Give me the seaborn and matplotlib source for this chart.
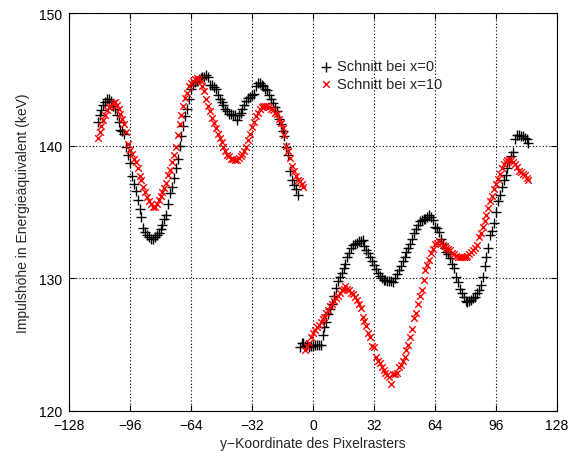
import numpy as np
import pandas as pd
import matplotlib
matplotlib.use("Agg")
import matplotlib.pyplot as plt
import seaborn as sns

# ---- data ----
x_black_1 = np.arange(-113, -7)
y_black_1 = [141.8, 142.3, 142.7, 143.1, 143.3, 143.5, 143.5, 143.4, 143.0, 142.8,
             142.3, 141.8, 141.2, 141.1, 140.9, 139.9, 139.3, 138.7, 137.7, 137.1,
             136.6, 135.9, 135.2, 134.6, 133.8, 133.5, 133.3, 133.1, 133.0, 133.0,
             133.1, 133.3, 133.4, 133.7, 134.0, 134.5, 134.8, 135.6, 136.4, 136.9,
             137.6, 138.3, 139.0, 140.0, 140.7, 141.5, 142.2, 142.8, 143.5, 144.3,
             144.6, 144.8, 144.9, 145.0, 145.1, 145.2, 145.2, 145.3, 145.2, 144.6,
             144.6, 144.4, 144.3, 143.8, 143.5, 143.3, 143.1, 142.8, 142.6, 142.4,
             142.4, 142.3, 142.3, 141.9, 142.3, 142.5, 142.8, 143.1, 143.4, 143.6,
             143.7, 143.8, 143.9, 144.5, 144.7, 144.7, 144.6, 144.5, 144.3, 144.2,
             143.8, 143.5, 143.2, 142.9, 142.6, 142.0, 141.6, 141.1, 140.7, 139.9,
             139.3, 138.1, 137.4, 137.0, 136.7, 136.3]

x_red_1 = np.arange(-113, -4)
y_red_1 = [140.6, 141.0, 141.5, 141.9, 142.3, 142.7, 142.9, 143.0, 143.2, 143.3,
           143.1, 142.8, 142.4, 142.0, 141.6, 141.0, 140.1, 139.7, 139.4, 139.0,
           138.8, 138.3, 137.7, 137.4, 136.9, 136.5, 136.1, 135.8, 135.6, 135.4,
           135.4, 135.6, 135.9, 136.2, 136.5, 136.8, 137.2, 137.8, 138.2, 138.8,
           139.3, 139.9, 140.8, 141.6, 142.3, 143.0, 143.6, 144.0, 144.5, 144.7,
           144.9, 145.0, 145.1, 145.0, 144.9, 144.5, 144.1, 143.5, 143.0, 142.6,
           142.1, 141.7, 141.3, 140.9, 140.6, 140.3, 139.9, 139.6, 139.3, 139.2,
           139.0, 139.0, 138.9, 138.9, 139.1, 139.2, 139.4, 139.6, 139.9, 140.4,
           140.9, 141.4, 141.8, 142.2, 142.5, 142.8, 142.9, 143.0, 143.0, 143.0,
           142.9, 142.8, 142.7, 142.5, 142.4, 142.0, 141.7, 141.3, 140.8, 140.0,
           139.6, 139.1, 138.5, 138.1, 137.7, 137.4, 137.3, 137.1, 136.9]

x_black_2 = np.arange(-7, 114)
y_black_2 = [124.8, 125.1, 125.1, 124.9, 125.0, 124.8, 124.9, 124.9, 125.0, 125.0,
             125.0, 125.0, 125.7, 126.3, 126.7, 127.3, 127.7, 128.1, 128.7, 129.3,
             129.8, 130.1, 130.4, 130.8, 131.1, 131.6, 131.9, 132.3, 132.5, 132.6,
             132.7, 132.8, 132.8, 132.9, 132.4, 132.1, 131.9, 131.6, 131.3, 131.0,
             130.7, 130.4, 130.2, 130.0, 129.9, 129.9, 129.8, 129.8, 129.8, 129.7,
             130.0, 130.3, 130.6, 130.9, 131.3, 131.6, 132.0, 132.3, 132.6, 133.0,
             133.4, 133.7, 134.0, 134.3, 134.4, 134.5, 134.5, 134.6, 134.8, 134.6,
             134.4, 133.9, 133.8, 133.5, 133.0, 132.6, 132.3, 132.0, 131.8, 131.5,
             131.1, 130.8, 130.1, 129.7, 129.2, 128.9, 128.6, 128.3, 128.2, 128.3,
             128.4, 128.5, 128.6, 128.9, 129.1, 129.5, 130.1, 130.9, 131.6, 132.3,
             133.3, 133.6, 134.2, 135.0, 135.8, 136.3, 136.9, 137.4, 137.8, 138.3,
             138.8, 139.2, 139.5, 140.5, 140.8, 140.8, 140.7, 140.7, 140.6, 140.5,
             140.2]

x_red_2 = np.arange(-4, 114)
y_red_2 = [124.6, 124.9, 125.1, 125.6, 125.9, 126.1, 126.3, 126.5, 126.7, 126.9,
           127.1, 127.4, 127.6, 127.9, 128.1, 128.3, 128.5, 128.7, 128.9, 129.1,
           129.2, 129.4, 129.2, 129.1, 128.9, 128.8, 128.6, 128.4, 128.1, 127.8,
           127.1, 126.8, 126.4, 125.9, 125.6, 124.9, 124.8, 124.1, 123.8, 123.6,
           123.3, 123.1, 122.9, 122.7, 122.6, 122.0, 122.8, 122.8, 122.9, 123.3,
           123.5, 123.8, 124.1, 124.6, 125.0, 125.6, 126.2, 127.0, 127.4, 128.1,
           128.7, 129.1, 129.9, 130.6, 131.0, 131.4, 131.9, 132.2, 132.6, 132.7,
           132.8, 132.7, 132.5, 132.4, 132.3, 132.2, 132.1, 131.9, 131.8, 131.7,
           131.6, 131.6, 131.6, 131.6, 131.6, 131.7, 131.8, 132.0, 132.1, 132.3,
           132.5, 133.1, 133.4, 133.9, 134.3, 134.8, 135.3, 135.8, 136.2, 136.7,
           137.1, 137.5, 137.9, 138.3, 138.6, 138.8, 138.9, 139.0, 138.9, 138.8,
           138.6, 138.4, 138.1, 138.0, 137.9, 137.8, 137.6, 137.4]

labels = ["Schnitt bei x=0", "Schnitt bei x=10"]
x_ticks = [-128, -96, -64, -32, 0, 32, 64, 96, 128]
y_ticks = [120, 130, 140, 150]

# ---- style ----
sns.set_style("ticks")
plt.rcParams["font.family"] = ["Liberation Sans", "DejaVu Sans"]
plt.rcParams["font.size"] = 10

fig = plt.figure(figsize=(5.72, 4.52), dpi=100)
ax = fig.add_axes([69 / 572, 1 - 412 / 452, 488 / 572, 398 / 452])

black = pd.DataFrame({"x": np.concatenate([x_black_1, x_black_2]),
                      "y": np.concatenate([y_black_1, y_black_2])})
red = pd.DataFrame({"x": np.concatenate([x_red_1, x_red_2]),
                    "y": np.concatenate([y_red_1, y_red_2])})

sns.scatterplot(data=black, x="x", y="y", ax=ax, marker="+", color="black",
                s=60, linewidth=1.0, label=labels[0], zorder=3)
sns.scatterplot(data=red, x="x", y="y", ax=ax, marker="x", color="#ff0000",
                s=22, linewidth=1.0, label=labels[1], zorder=3)

ax.set_xlim(-128, 128)
ax.set_ylim(120, 150)
ax.set_xticks(x_ticks)
ax.set_yticks(y_ticks)
ax.set_xticklabels([str(t).replace("-", "\u2212") for t in x_ticks])
ax.set_yticklabels([str(t) for t in y_ticks])
ax.tick_params(direction="in", top=True, right=True, length=4, width=0.8,
               labelsize=10, colors="black", pad=5)
for sp in ax.spines.values():
    sp.set_color("black")
    sp.set_linewidth(0.8)

ax.grid(True, color="black", linestyle=(0, (1, 2)), linewidth=0.8)

ax.set_xlabel("y\u2212Koordinate des Pixelrasters", fontsize=10, labelpad=3)
ax.set_ylabel("Impulshöhe in Energieäquivalent (keV)", fontsize=10, labelpad=6)

leg = ax.legend(loc="upper left", bbox_to_anchor=(0.49, 0.909), frameon=False,
                handletextpad=0.3, handlelength=1.0, borderpad=0.2,
                labelspacing=0.22, fontsize=10.5)

fig.savefig("out.png", dpi=100)
